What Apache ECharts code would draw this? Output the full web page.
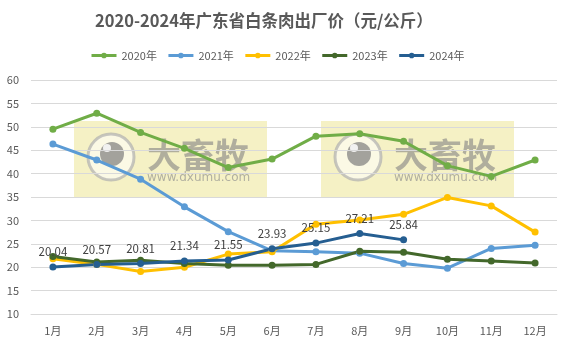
<!DOCTYPE html>
<html>
<head>
<meta charset="utf-8">
<script src="https://cdn.jsdelivr.net/npm/echarts@6/dist/echarts.min.js"></script>
<style>
  html, body { margin: 0; padding: 0; background: #ffffff; }
  #chart { width: 568px; height: 347px; }
</style>
</head>
<body>
<div id="chart"></div>
<script>
// Monthly ex-factory price of pork carcass in Guangdong, yuan/kg
const months = ['1月', '2月', '3月', '4月', '5月', '6月', '7月', '8月', '9月', '10月', '11月', '12月'];
const seriesNames = ['2020年', '2021年', '2022年', '2023年', '2024年'];
const price2020 = [49.5, 52.9, 48.8, 45.4, 41.3, 43.1, 48.0, 48.5, 46.9, 41.7, 39.4, 42.9];
const price2021 = [46.3, 42.9, 38.8, 32.9, 27.6, 23.5, 23.3, 23.0, 20.8, 19.8, 24.0, 24.7];
const price2022 = [21.8, 20.6, 19.1, 20.0, 22.8, 23.3, 29.2, 30.1, 31.3, 34.9, 33.1, 27.5];
const price2023 = [22.3, 21.1, 21.5, 20.8, 20.4, 20.4, 20.6, 23.4, 23.2, 21.7, 21.3, 20.9];
const price2024 = [20.04, 20.57, 20.81, 21.34, 21.55, 23.93, 25.15, 27.21, 25.84];
const lineColors = ['#70AD47', '#5B9BD5', '#FFC000', '#43682B', '#255E91'];
const yTicks = { min: 10, max: 60, step: 5 };

const FONT = '"Noto Sans CJK SC", "Noto Sans", sans-serif';

// Semi-transparent logo stamp laid over the plot
function stamp(left, top) {
  return {
    type: 'group', left: left, top: top, z: 100, silent: true,
    children: [
      { type: 'rect', shape: { x: 0, y: 0, width: 193, height: 76 },
        style: { fill: 'rgba(215,199,23,0.25)' } },
      { type: 'circle', shape: { cx: 37, cy: 36, r: 23 },
        style: { fill: 'rgba(255,255,255,0.55)', stroke: 'rgba(175,175,175,0.7)', lineWidth: 3 } },
      { type: 'circle', shape: { cx: 38, cy: 33, r: 12 },
        style: { fill: 'rgba(125,125,125,0.7)' } },
      { type: 'circle', shape: { cx: 33, cy: 27, r: 4 },
        style: { fill: 'rgba(255,255,255,0.85)' } },
      { type: 'text', x: 73, y: 34,
        style: { text: '大畜牧', font: 'bold 34px ' + FONT, fill: 'rgba(130,130,130,0.6)',
                 verticalAlign: 'middle', align: 'left' } },
      { type: 'text', x: 73, y: 57,
        style: { text: 'www.dxumu.com', font: '12px "DejaVu Sans", sans-serif', fill: 'rgba(140,140,140,0.65)',
                 verticalAlign: 'middle', align: 'left' } }
    ]
  };
}

const dataSets = [price2020, price2021, price2022, price2023, price2024];

const series = dataSets.map((values, i) => ({
  name: seriesNames[i],
  type: 'line',
  data: values,
  symbol: 'circle',
  symbolSize: 7,
  lineStyle: { width: 3, color: lineColors[i] },
  itemStyle: { color: lineColors[i] },
  emphasis: { disabled: true },
  animation: false,
  label: i === 4 ? {
    show: true, position: 'top', distance: 6,
    color: '#404040', fontSize: 11.5, fontFamily: FONT,
    formatter: (p) => p.value.toFixed(2)
  } : { show: false }
}));

const chart = echarts.init(document.getElementById('chart'), null, { renderer: 'canvas' });
chart.setOption({
  backgroundColor: '#ffffff',
  animation: false,
  color: lineColors,
  title: {
    text: '2020-2024年广东省白条肉出厂价（元/公斤）',
    left: 90, top: 7,
    textStyle: { color: '#595959', fontSize: 16.5, fontWeight: 'bold', fontFamily: FONT }
  },
  legend: {
    left: 85, top: 45,
    itemWidth: 25, itemHeight: 7, itemGap: 10,
    data: seriesNames,
    lineStyle: { width: 3 },
    textStyle: { color: '#595959', fontSize: 11, fontFamily: FONT }
  },
  grid: { left: 31, right: 11, top: 80, bottom: 33, containLabel: false },
  xAxis: {
    type: 'category',
    data: months,
    boundaryGap: true,
    axisLine: { show: true, lineStyle: { color: '#D9D9D9' } },
    axisTick: { show: false },
    axisLabel: { color: '#595959', fontSize: 11, fontFamily: FONT, margin: 11 }
  },
  yAxis: {
    type: 'value',
    min: yTicks.min, max: yTicks.max, interval: yTicks.step,
    axisLine: { show: false },
    axisTick: { show: false },
    splitLine: { lineStyle: { color: '#D9D9D9', width: 1 } },
    axisLabel: { color: '#595959', fontSize: 11, fontFamily: FONT, margin: 12 }
  },
  series: series,
  graphic: [stamp(74, 121), stamp(321, 121)]
});
</script>
</body>
</html>
